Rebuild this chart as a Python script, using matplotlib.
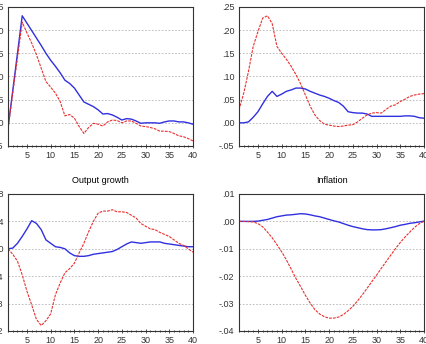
import numpy as np
import matplotlib
matplotlib.use("Agg")
import matplotlib.pyplot as plt
from matplotlib.ticker import MultipleLocator, FuncFormatter

plt.rcParams['font.family'] = ['Liberation Sans', 'DejaVu Sans']

periods = np.arange(1, 41)

# top left panel
tl_blue = [-.012, .069, .150, .231, .215, .199, .183, .167, .150, .135,
           .122, .108, .092, .085, .075, .060, .045, .040, .035, .028,
           .019, .020, .017, .012, .006, .009, .008, .004, -.001, .000,
           .000, .000, -.001, .002, .004, .004, .002, .002, .000, -.003]
tl_red = [-.012, .064, .141, .217, .194, .172, .147, .118, .089, .077,
          .064, .046, .015, .018, .010, -.008, -.023, -.010, -.001, -.003,
          -.007, .002, .006, .005, .000, .004, .004, -.001, -.007, -.008,
          -.010, -.013, -.018, -.018, -.019, -.023, -.028, -.030, -.034, -.039]

# top right panel
tr_blue = [.000, .000, .002, .012, .024, .041, .057, .068, .057, .062,
           .068, .071, .075, .075, .073, .068, .064, .060, .057, .053,
           .048, .044, .036, .024, .022, .021, .021, .019, .014, .014,
           .014, .014, .014, .014, .014, .015, .015, .014, .011, .010]
tr_red = [.028, .064, .111, .165, .197, .226, .231, .214, .165, .150,
          .137, .122, .104, .084, .060, .036, .017, .005, -.003, -.005,
          -.007, -.008, -.007, -.005, -.004, .002, .010, .017, .021, .022,
          .021, .029, .036, .039, .046, .051, .057, .060, .062, .063]

# output growth
og_blue = [.000, .001, .008, .018, .029, .041, .037, .028, .013, .008,
           .003, .002, .000, -.006, -.010, -.011, -.011, -.010, -.008, -.007,
           -.006, -.005, -.004, -.001, .003, .007, .010, .009, .008, .009,
           .010, .010, .010, .008, .007, .006, .005, .004, .003, .003]
og_red = [.000, -.008, -.018, -.038, -.062, -.082, -.103, -.112, -.105, -.095,
          -.067, -.050, -.035, -.029, -.021, -.006, .008, .025, .040, .052,
          .055, .055, .057, .054, .054, .053, .049, .045, .037, .033,
          .029, .028, .024, .021, .018, .013, .008, .005, .000, -.005]

# inflation
inf_blue = [.0000, .0000, .0000, .0000, .0001, .0004, .0007, .0012, .0017, .0020,
            .0023, .0024, .0026, .0028, .0027, .0024, .0020, .0017, .0012, .0007,
            .0002, -.0002, -.0008, -.0014, -.0019, -.0023, -.0027, -.0030, -.0031, -.0031,
            -.0030, -.0027, -.0023, -.0019, -.0014, -.0011, -.0007, -.0005, -.0002, .0001]
inf_red = [.0000, .0000, -.0001, -.0002, -.0008, -.0020, -.0039, -.0060, -.0085, -.0111,
           -.0141, -.0174, -.0208, -.0238, -.0270, -.0298, -.0322, -.0338, -.0348, -.0353,
           -.0353, -.0349, -.0340, -.0326, -.0310, -.0290, -.0268, -.0244, -.0220, -.0196,
           -.0171, -.0147, -.0123, -.0099, -.0077, -.0057, -.0039, -.0022, -.0008, .0000]

panels = [
    ("", tl_blue, tl_red, (-.05, .25), .05, [0.0187, 0.5756, 0.4333, 0.4041]),
    ("", tr_blue, tr_red, (-.05, .25), .05, [0.5597, 0.5756, 0.4333, 0.4041]),
    ("Output growth", og_blue, og_red, (-.12, .08), .04, [0.0187, 0.0378, 0.4333, 0.3983]),
    ("Inflation", inf_blue, inf_red, (-.04, .01), .01, [0.5597, 0.0378, 0.4333, 0.3983]),
]

def eviews_fmt(v, pos):
    # EViews style labels: .05, -.05, .00
    if abs(v) < 1e-9:
        return ".00"
    return ("%.2f" % v).replace("0.", ".")

fig = plt.figure(figsize=(4.27, 3.44), dpi=100)
for title, blue, red, ylim, step, rect in panels:
    ax = fig.add_axes(rect)
    ax.plot(periods, blue, color='#3030e0', lw=1.0)
    ax.plot(periods, red, color='#ea3030', lw=0.8, dashes=(2.5, 1))
    ax.set_xlim(1, 40)
    ax.set_ylim(*ylim)
    ax.xaxis.set_major_locator(MultipleLocator(5))
    ax.xaxis.set_minor_locator(MultipleLocator(1))
    ax.yaxis.set_major_locator(MultipleLocator(step))
    ax.yaxis.set_major_formatter(FuncFormatter(eviews_fmt))
    ax.yaxis.grid(True, color='#b4b4b4', ls=(0, (2, 2)), lw=0.6)
    ax.tick_params(axis='both', labelsize=6.5, length=2.5, width=0.6,
                   direction='inout', pad=2, colors='#333333')
    ax.tick_params(axis='x', which='minor', length=2, width=0.5, direction='inout')
    ax.tick_params(axis='y', left=False)
    for sp in ax.spines.values():
        sp.set_color('#333333')
        sp.set_linewidth(0.8)
    if title:
        ax.set_title(title, fontsize=6.5, pad=8)

fig.savefig("out.png", dpi=100)
